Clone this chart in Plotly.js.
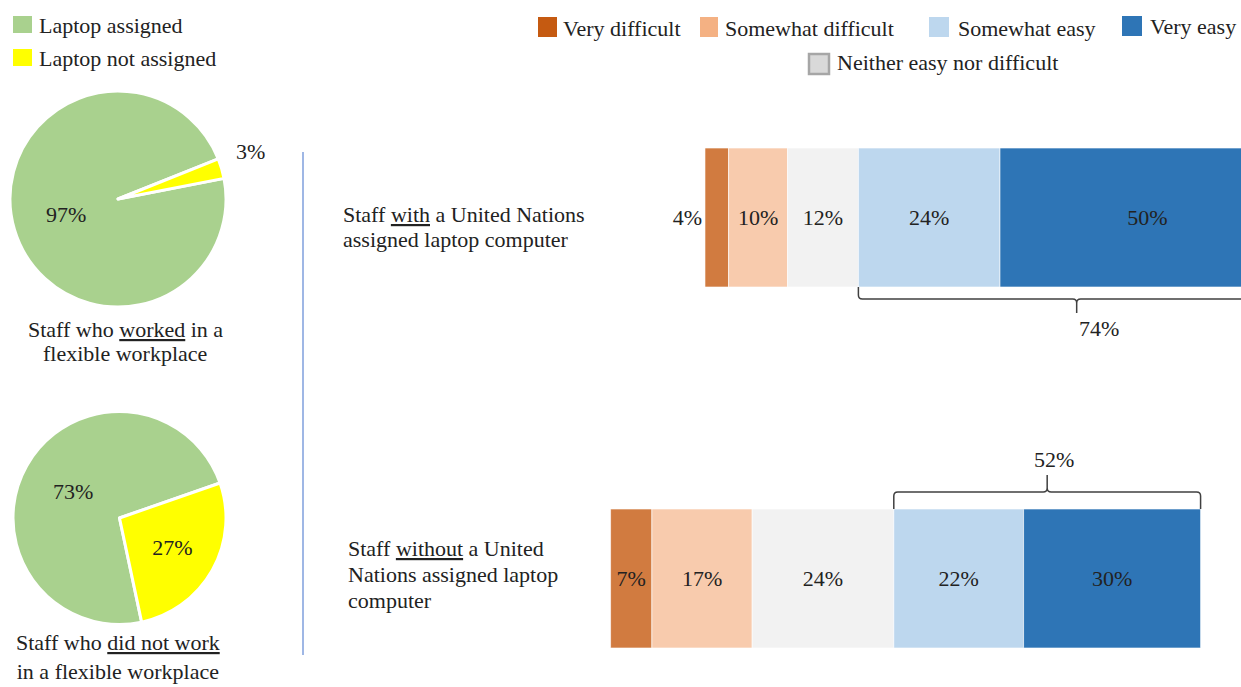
<!DOCTYPE html>
<html><head><meta charset="utf-8">
<script src="https://cdn.plot.ly/plotly-3.0.1.min.js"></script>
<style>html,body{margin:0;padding:0;background:#fff;} #chart{width:1241px;height:687px;}</style>
</head><body><div id="chart"></div>
<script>
// ---------------- DATA ----------------
const pieLabels = ['Laptop assigned', 'Laptop not assigned'];
const pieWorkedFlexible = [97, 3];
const pieNotWorkedFlexible = [73, 27];
const pieTitles = [
  ['Staff who <u>worked</u> in a', 'flexible workplace'],
  ['Staff who <u>did not work</u>', 'in a flexible workplace']
];

const groupLabels = [
  ['Staff <u>with</u> a United Nations', 'assigned laptop computer'],
  ['Staff <u>without</u> a United', 'Nations assigned laptop', 'computer']
];
const levels = ['Very difficult', 'Somewhat difficult', 'Neither easy nor difficult', 'Somewhat easy', 'Very easy'];
const veryDifficult     = [4, 7];
const somewhatDifficult = [10, 17];
const neitherEasy       = [12, 24];
const somewhatEasy      = [24, 22];
const veryEasy          = [50, 30];
const easyTotals        = [74, 52];

// ---------------- STYLE / LAYOUT ----------------
const W = 1241, H = 687;
const FONT = '"Liberation Serif", "Times New Roman", "DejaVu Serif", serif';
const FS = 22;
const TXT = '#222222';
const pieColors = ['#a9d18e', '#ffff00'];
const barColors = ['#d17b40', '#f8cbad', '#f2f2f2', '#bdd7ee', '#2e75b6'];
const legendColors = ['#c55a11', '#f4b183', '#d9d9d9', '#bdd7ee', '#2e75b6'];
const groupY = [1, 0];
const barW = 0.385;

const px = v => v / W;
const py = v => 1 - v / H;

// axis geometry
const xmin = -40, xmax = 70.85, xd0 = 0.473;
const ymin = -0.3, ymax = 1.3, yd = [0.0003, 0.841];
const kx = W * (1 - xd0) / (xmax - xmin);           // px per x unit
const ky = H * (yd[1] - yd[0]) / (ymax - ymin);      // px per y unit

// ---------------- TRACES ----------------
const traces = [];

traces.push({
  type: 'pie', values: pieWorkedFlexible, labels: pieLabels, sort: false,
  direction: 'clockwise', rotation: 79,
  domain: {x: [px(10), px(226)], y: [py(307), py(91)]},
  marker: {colors: pieColors, line: {color: '#ffffff', width: 3}},
  text: pieWorkedFlexible.map(v => v + '%'), textinfo: 'text',
  textposition: ['inside', 'none'],
  textfont: {family: FONT, size: FS, color: TXT},
  insidetextorientation: 'horizontal',
  hoverinfo: 'skip', showlegend: false
});
traces.push({
  type: 'pie', values: pieNotWorkedFlexible, labels: pieLabels, sort: false,
  direction: 'clockwise', rotation: 168,
  domain: {x: [px(13), px(226)], y: [py(624.5), py(411.5)]},
  marker: {colors: pieColors, line: {color: '#ffffff', width: 3}},
  text: pieNotWorkedFlexible.map(v => v + '%'), textinfo: 'text',
  textposition: ['inside', 'inside'],
  textfont: {family: FONT, size: FS, color: TXT},
  insidetextorientation: 'horizontal',
  hoverinfo: 'skip', showlegend: false
});

// Diverging stacked bars, centred on the middle of the neutral segment
const series = [veryDifficult, somewhatDifficult, neitherEasy, somewhatEasy, veryEasy];
const textPos = [['outside', 'inside'], ['inside', 'inside'], ['inside', 'inside'], ['inside', 'inside'], ['inside', 'inside']];
series.forEach((vals, i) => {
  const bases = [], xs = [];
  groupY.forEach((_, g) => {
    const half = neitherEasy[g] / 2;
    if (i === 0) { bases.push(-(half + somewhatDifficult[g])); xs.push(-veryDifficult[g]); }
    if (i === 1) { bases.push(-half); xs.push(-somewhatDifficult[g]); }
    if (i === 2) { bases.push(-half); xs.push(neitherEasy[g]); }
    if (i === 3) { bases.push(half); xs.push(somewhatEasy[g]); }
    if (i === 4) { bases.push(half + somewhatEasy[g]); xs.push(veryEasy[g]); }
  });
  traces.push({
    type: 'bar', orientation: 'h', name: levels[i],
    y: groupY, x: xs, base: bases, width: barW,
    marker: {color: barColors[i], line: {color: 'rgba(255,255,255,0.6)', width: 1}},
    text: vals.map(v => v + '%'), textposition: textPos[i],
    insidetextanchor: 'middle', constraintext: 'none',
    textfont: {family: FONT, size: FS, color: TXT},
    hoverinfo: 'skip', showlegend: false, xaxis: 'x', yaxis: 'y'
  });
});

// ---------------- SHAPES & ANNOTATIONS ----------------
const shapes = [];
const annotations = [];
const ann = (text, x, y, xanchor, extra) => Object.assign({
  text: text, x: x, y: y, xref: 'paper', yref: 'paper', xanchor: xanchor, yanchor: 'middle',
  showarrow: false, font: {family: FONT, size: FS, color: TXT}, align: xanchor === 'center' ? 'center' : 'left'
}, extra || {});

// Vertical separator
shapes.push({type: 'line', xref: 'paper', yref: 'paper', x0: px(303), x1: px(303), y0: py(152), y1: py(655),
  line: {color: '#7f9fdc', width: 1.5}});

// Pie legend
const pieLegPos = [[13, 16, 32, 33, 25], [13, 49, 32, 66, 58]];
pieLabels.forEach((lab, i) => {
  const p = pieLegPos[i];
  shapes.push({type: 'rect', xref: 'paper', yref: 'paper', x0: px(p[0]), x1: px(p[2]), y0: py(p[3]), y1: py(p[1]),
    fillcolor: pieColors[i], line: {width: 0}});
  annotations.push(ann(lab, px(37), py(p[4]), 'left'));
});

// Bar legend
const barLegPos = [[538, 17, 557, 37, 561, 28], [700, 17, 718, 37, 723, 28], [809, 54, 829, 74, 835, 63],
                   [929, 17, 949, 37, 956, 28], [1122, 16, 1142, 36, 1148, 26]];
levels.forEach((lab, i) => {
  const p = barLegPos[i];
  shapes.push({type: 'rect', xref: 'paper', yref: 'paper', x0: px(p[0]), x1: px(p[2]), y0: py(p[3]), y1: py(p[1]),
    fillcolor: legendColors[i], line: {width: i === 2 ? 2.5 : 0, color: '#a6a6a6'}});
  annotations.push(ann(lab, px(p[4]), py(p[5]), 'left'));
});

// Pie value label outside the thin slice
annotations.push(ann(pieWorkedFlexible[1] + '%', px(250), py(151), 'center'));

// Pie titles
pieTitles[0].forEach((ln, j) => annotations.push(ann(ln, px(125), py(329 + j * 24), 'center')));
annotations.push(ann(pieTitles[1].join('<br>'), px(118), 0.001, 'center', {yanchor: 'bottom'}));

// Group labels
const groupLabelPos = [[341, 214, 26], [346, 548, 26]];
groupLabels.forEach((lines, i) => {
  const p = groupLabelPos[i];
  lines.forEach((ln, j) => annotations.push(ann(ln, px(p[0]), py(p[1] + j * p[2]), 'left')));
});

// Brackets over the "easy" segments
function bracket(g, dir, legPx, tipPx, labelPx, labelShift) {
  const x0 = neitherEasy[g] / 2;
  const x1 = x0 + somewhatEasy[g] + veryEasy[g];
  const xm = (x0 + x1) / 2;
  const yEdge = groupY[g] + dir * barW / 2;
  const y1 = yEdge + dir * legPx / ky;
  const y2 = y1 + dir * tipPx / ky;
  const rx = 4 / kx, ry = dir * 4 / ky;
  const path =
    `M ${x0},${yEdge} L ${x0},${y1 - ry} Q ${x0},${y1} ${x0 + rx},${y1} L ${xm - rx},${y1} Q ${xm},${y1} ${xm},${y1 + ry} L ${xm},${y2} ` +
    `M ${xm},${y1 + ry} Q ${xm},${y1} ${xm + rx},${y1} L ${x1 - rx},${y1} Q ${x1},${y1} ${x1},${y1 - ry} L ${x1},${yEdge}`;
  shapes.push({type: 'path', xref: 'x', yref: 'y', path: path, line: {color: '#404040', width: 1.5}});
  annotations.push({text: easyTotals[g] + '%', x: xm, y: y2 + dir * labelPx / ky, xref: 'x', yref: 'y',
    xshift: labelShift, xanchor: 'center', yanchor: 'middle', showarrow: false,
    font: {family: FONT, size: FS, color: TXT}});
}
bracket(0, -1, 12, 14, 15, 22);
bracket(1, 1, 17, 17, 16, 7);

const layout = {
  width: W, height: H, margin: {l: 0, r: 0, t: 0, b: 0, pad: 0},
  paper_bgcolor: '#ffffff', plot_bgcolor: 'rgba(0,0,0,0)',
  showlegend: false, barmode: 'overlay',
  font: {family: FONT, size: FS, color: TXT},
  xaxis: {domain: [xd0, 1], range: [xmin, xmax], visible: false, fixedrange: true},
  yaxis: {domain: yd, range: [ymin, ymax], visible: false, fixedrange: true},
  shapes: shapes, annotations: annotations
};

Plotly.newPlot('chart', traces, layout, {displayModeBar: false, staticPlot: true});
</script></body></html>
